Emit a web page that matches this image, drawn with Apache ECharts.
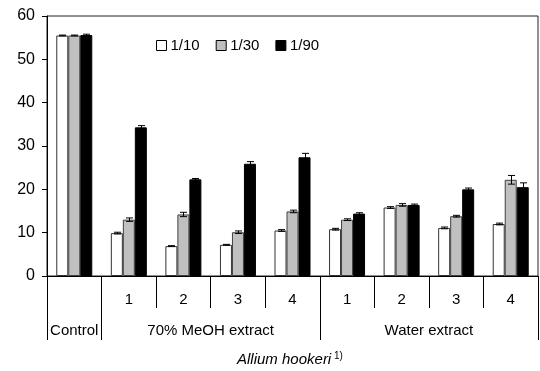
<!DOCTYPE html>
<html>
<head>
<meta charset="utf-8">
<script src="https://cdn.jsdelivr.net/npm/echarts@6/dist/echarts.min.js"></script>
<style>html,body{margin:0;padding:0;background:#fff;}#c{width:540px;height:371px;}</style>
</head>
<body>
<div id="c"></div>
<script>
const categories = ['', '1', '2', '3', '4', '1', '2', '3', '4'];
const groupLabels = ['Control', '70% MeOH extract', 'Water extract'];
const groupCenters = [0.5, 3, 7];
const groupBounds = [0, 1, 5, 9];
const seriesNames = ['1/10', '1/30', '1/90'];
const v10 = [55.5, 9.9, 6.9, 7.2, 10.5, 10.8, 15.8, 11.1, 12.0];
const v30 = [55.5, 13.0, 14.2, 10.1, 14.9, 13.0, 16.4, 13.8, 22.2];
const v90 = [55.6, 34.3, 22.3, 25.9, 27.4, 14.4, 16.4, 20.0, 20.5];
const e10 = [0.1, 0.2, 0.1, 0.1, 0.2, 0.2, 0.2, 0.2, 0.2];
const e30 = [0.1, 0.4, 0.5, 0.3, 0.3, 0.2, 0.3, 0.2, 1.0];
const e90 = [0.2, 0.4, 0.2, 0.5, 0.9, 0.2, 0.2, 0.3, 1.0];
const yTicks = [0, 10, 20, 30, 40, 50, 60];

const FONT = 'Liberation Sans';
const BW = 12;
const fills = ['#ffffff', '#c0c0c0', '#000000'];
const borders = ['#333333', '#404040', '#000000'];
const vals = [v10, v30, v90];
const errs = [e10, e30, e90];

const chart = echarts.init(document.getElementById('c'), null, {renderer: 'canvas'});

const barSeries = seriesNames.map((n, i) => ({
  name: n, type: 'bar', xAxisIndex: 0, yAxisIndex: 0,
  data: vals[i], barWidth: BW, barGap: '0%',
  itemStyle: {color: fills[i], borderColor: borders[i], borderWidth: 1},
  emphasis: {disabled: true}, z: 2
}));

const errSeries = seriesNames.map((n, i) => ({
  type: 'custom', xAxisIndex: 0, yAxisIndex: 0, z: 5,
  data: vals[i].map((v, k) => [k, v, errs[i][k]]),
  renderItem: function (params, api) {
    const k = api.value(0), v = api.value(1), e = api.value(2);
    const off = (i - 1) * BW;
    const top = api.coord([k, v + e]);
    const bot = api.coord([k, v - e]);
    const x = Math.round(top[0] + off) + 0.5;
    const cap = 3.5;
    const st = {stroke: '#000', lineWidth: 1};
    return {type: 'group', children: [
      {type: 'line', shape: {x1: x, y1: top[1], x2: x, y2: bot[1]}, style: st},
      {type: 'line', shape: {x1: x - cap, y1: top[1], x2: x + cap, y2: top[1]}, style: st},
      {type: 'line', shape: {x1: x - cap, y1: bot[1], x2: x + cap, y2: bot[1]}, style: st}
    ]};
  }
}));

chart.setOption({
  animation: false,
  backgroundColor: '#ffffff',
  textStyle: {fontFamily: FONT},
  title: {
    text: '{i|Allium hookeri}{s| 1)}',
    left: 237, top: 351, padding: 0,
    textStyle: {fontWeight: 'normal', rich: {
      i: {fontFamily: FONT, fontSize: 15, fontStyle: 'italic', fontWeight: 'normal', color: '#000'},
      s: {fontFamily: FONT, fontSize: 10, fontWeight: 'normal', color: '#000', verticalAlign: 'top', padding: [0, 0, 8, 0]}
    }}
  },
  legend: {
    data: seriesNames.map((n, i) => ({name: n, itemStyle: {color: fills[i], borderColor: '#000', borderWidth: 1}})),
    left: 156, top: 38, padding: 0, icon: 'rect', itemWidth: 10, itemHeight: 10, itemGap: 16,
    textStyle: {fontFamily: FONT, fontSize: 15, color: '#000', padding: [0, 0, 0, -1]},
    selectedMode: false
  },
  grid: {left: 47, right: 2, top: 16, bottom: 95, show: true, borderColor: '#222', borderWidth: 1},
  xAxis: [
    {
      type: 'category', data: categories, gridIndex: 0, position: 'bottom',
      axisLine: {show: true, lineStyle: {color: '#000', width: 1}},
      axisTick: {show: true, length: 32, lineStyle: {color: '#000'}},
      axisLabel: {fontFamily: FONT, fontSize: 15, color: '#000', margin: 16},
      splitLine: {show: false}
    },
    {
      type: 'value', gridIndex: 0, position: 'bottom', min: 0, max: 9,
      axisLine: {show: false},
      axisTick: {show: true, length: 64, customValues: groupBounds, lineStyle: {color: '#000'}},
      axisLabel: {fontFamily: FONT, fontSize: 15, color: '#000', margin: 47,
        customValues: groupCenters,
        formatter: function (v) { const idx = groupCenters.indexOf(v); return idx >= 0 ? groupLabels[idx] : ''; }},
      splitLine: {show: false}
    }
  ],
  yAxis: {
    type: 'value', min: yTicks[0], max: yTicks[yTicks.length - 1], interval: 10,
    axisLine: {show: true, lineStyle: {color: '#000'}},
    axisTick: {show: true, length: 5, lineStyle: {color: '#000'}},
    axisLabel: {fontFamily: FONT, fontSize: 16, color: '#000', margin: 12},
    splitLine: {show: false}
  },
  series: barSeries.concat(errSeries)
});
</script>
</body>
</html>
